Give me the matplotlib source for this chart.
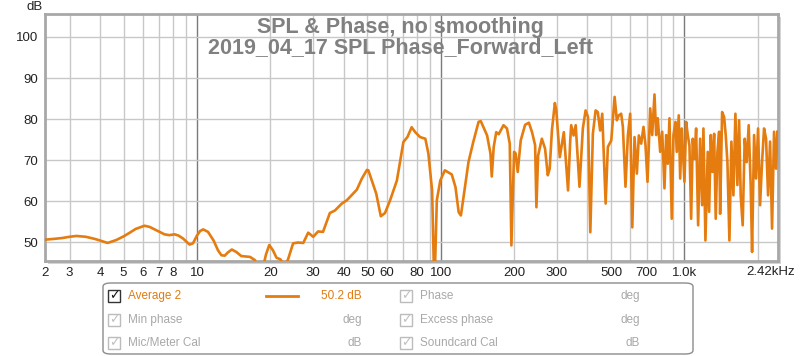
import numpy as np
import matplotlib
matplotlib.use("Agg")
import matplotlib.pyplot as plt
from matplotlib.patches import FancyBboxPatch, Rectangle
from matplotlib.ticker import FixedLocator, NullFormatter

plt.rcParams['font.family'] = ['Liberation Sans', 'DejaVu Sans']

# SPL readings (Hz, dB) - smooth low end
freq_lo = [2.38, 2.6, 2.8, 3.0, 3.2, 3.5, 3.8, 4.0, 4.3, 4.66, 5.0, 5.3, 5.6, 6.09, 6.4, 6.81, 7.36,
           7.7, 8.1, 8.4, 8.76, 9.33, 9.63, 10.0, 10.3, 10.6, 11.1, 11.7, 12.2, 12.6, 13.0, 13.4,
           13.9, 14.5, 15.2, 16.5, 17.3, 18.0, 18.6, 19.2, 19.8, 20.5, 21.2,
           22.0, 23.0, 23.7, 24.8, 26.0, 27.3, 28.6, 30.0, 31.4, 32.9, 35.1, 36.8, 39.3, 41.2,
           45.3, 47.5, 49.8, 50.5, 54.4, 56.8, 59.1, 62.0, 66.1, 70.3, 73.0, 76.0, 78.6, 82.3,
           86.5, 89.0, 92.2, 94.2, 96.4, 99.6, 104, 111, 115, 118.5, 121, 123, 130, 136, 143,
           146, 155, 160, 162, 165, 169, 173, 181, 187, 192, 195, 200, 203, 207, 213, 222, 230,
           237, 244, 247, 251, 260, 268, 275, 280, 286, 294, 298, 308, 320, 333, 340]
spl_lo = [50.6, 50.8, 51.0, 51.3, 51.5, 51.3, 50.8, 50.4, 49.8, 50.5, 51.4, 52.3, 53.2, 54.0, 53.7,
          52.9, 51.9, 51.7, 51.9, 51.6, 50.9, 49.4, 49.7, 51.6, 52.7, 53.1, 52.5, 50.4, 48.0,
          46.8, 46.7, 47.5, 48.2, 47.6, 46.6, 46.4, 45.6, 43.0, 43.5, 47.0, 49.3, 48.0, 46.2,
          45.8, 44.0, 46.0, 49.7, 49.9, 49.8, 52.3, 51.3, 52.6, 52.5, 57.1, 57.7, 59.4, 60.2,
          62.8, 65.5, 67.6, 67.5, 61.8, 56.3, 57.1, 60.2, 65.0, 74.4, 75.6, 78.0, 76.8, 75.6,
          75.2, 71.6, 62.6, 38.0, 60.2, 65.0, 67.5, 66.5, 63.4, 57.3, 56.5, 59.4, 69.5, 74.4, 79.3,
          79.5, 76.0, 71.6, 66.0, 73.2, 76.8, 76.3, 78.5, 77.7, 74.0, 49.2, 72.0, 71.6, 67.1, 74.8,
          78.6, 79.1, 76.8, 73.6, 58.5, 71.1, 75.2, 72.8, 66.3, 67.9, 77.3, 83.9, 82.1, 70.7,
          76.8, 62.6, 74.8]

# noisy mid/high end
freq_mid = [343, 351, 358, 371, 383, 393, 402, 411, 421, 432, 441, 451, 460, 475, 485, 501,
            517, 528, 538, 550, 559, 573, 586, 599, 611, 624, 638, 650]
spl_mid = [78.5, 76.0, 78.5, 63.5, 77.7, 82.1, 80.5, 52.4, 76.4, 82.1, 81.7, 77.2, 81.3, 59.4,
           73.2, 74.8, 85.4, 79.7, 80.9, 81.3, 78.1, 63.5, 76.0, 81.3, 53.6, 75.6, 66.7, 76.0]

freq_hi = [664.6, 679.2, 692.2, 705.4, 723.6, 737.4, 753.5, 765.6, 777.4, 795.2, 810.4, 828.0,
           841.4, 854.2, 868.1, 887.2, 901.5, 918.7, 930.0, 947.7, 960.4, 974.9, 1000, 1016.2,
           1031.6, 1048.3, 1065.3, 1081.5, 1098.9, 1116.7, 1138.0, 1159.7, 1181.8, 1196.4,
           1219.2, 1246.1, 1262.7, 1281.9, 1302.6, 1323.7, 1343.8, 1365.5, 1387.6, 1400.7,
           1427.4, 1454.6, 1476.7, 1500.6, 1529.2, 1558.3, 1588.0, 1618.2, 1649.1, 1675.7,
           1701.2, 1733.6, 1766.7, 1800.3, 1834.6, 1869.6, 1894.4, 1930.4, 1967.2, 2004.7,
           2042.9, 2081.8, 2121.5, 2161.9, 2203.1, 2245.1, 2287.9, 2331.4, 2375.8, 2405.1]
spl_hi = [74.0, 78.1, 73.6, 64.7, 82.6, 76.1, 86.0, 76.1, 80.2, 72.0, 76.9, 63.1,
          76.1, 69.1, 80.2, 55.7, 76.1, 79.3, 72.0, 80.9, 65.5, 77.7, 64.7, 79.3,
          76.1, 73.6, 55.7, 75.2, 70.3, 77.7, 54.1, 75.2, 59.0, 77.7,
          50.4, 72.0, 57.4, 76.1, 67.1, 76.4, 55.7, 72.0, 76.9, 56.9,
          81.7, 80.5, 76.1, 69.5, 50.4, 74.5, 61.4, 81.3, 63.9, 79.7,
          61.4, 54.1, 75.2, 69.5, 78.5, 63.9, 47.6, 76.1, 65.5, 77.7,
          59.0, 69.5, 77.7, 75.2, 61.4, 74.5, 53.3, 76.9, 67.9, 76.9]

x_ticks = [3, 4, 5, 6, 7, 8, 10, 20, 30, 40, 50, 60, 80, 100, 200, 300, 500, 700, 1000]
x_labels = ['3', '4', '5', '6', '7', '8', '10', '20', '30', '40', '50', '60', '80', '100',
            '200', '300', '500', '700', '1.0k']
y_ticks = [50, 60, 70, 80, 90, 100]

freq = np.array(freq_lo + freq_mid + freq_hi)
spl = np.array(spl_lo + spl_mid + spl_hi)

fig = plt.figure(figsize=(8, 3.56), dpi=100)
ax = fig.add_axes([45 / 800, 1 - 261 / 356, 733 / 800, 247 / 356])
ax.set_xscale('log')
ax.set_xlim(2.38, 2420)
ax.set_ylim(45.4, 105.6)

# drop shadow under the plot frame
fig.patches.append(Rectangle((48 / 800, 1 - 264 / 356), 733 / 800, 247 / 356,
                             transform=fig.transFigure, fc='#d4d4d4', ec='none', zorder=-1))

# grid
minor = [m * 10 ** k for k in range(0, 4) for m in range(2, 10) if 2.38 < m * 10 ** k < 2420]
for f in minor:
    ax.axvline(f, color='#c8c8c8', lw=1, zorder=1)
for f in [10, 100, 1000]:
    ax.axvline(f, color='#7a7a7a', lw=1, zorder=1)
for y in y_ticks:
    ax.axhline(y, color='#c8c8c8', lw=1, zorder=1)

ax.plot(freq, spl, color='#e57c10', lw=1.9, zorder=3, solid_joinstyle='round')

ax.xaxis.set_major_locator(FixedLocator([2.38] + x_ticks))
ax.set_xticklabels(['2'] + x_labels)
ax.xaxis.set_minor_formatter(NullFormatter())
ax.tick_params(axis='x', which='both', length=0, pad=4, labelsize=9.5, colors='#222222')
ax.set_yticks(y_ticks)
ax.tick_params(axis='y', length=0, pad=5, labelsize=9.5, colors='#222222')
for s in ax.spines.values():
    s.set_color('#a8a8a8')
    s.set_linewidth(2)

fig.text(795 / 800, 1 - 272 / 356, '2.42kHz', ha='right', va='center', fontsize=9.5,
         color='#222222')
fig.text(35 / 800, 1 - 7 / 356, 'dB', ha='center', va='center', fontsize=9.5, color='#222222')
fig.text(0.5, 1 - 27 / 356, 'SPL & Phase, no smoothing', ha='center', va='center',
         fontsize=15.5, fontweight='bold', color='#808080')
fig.text(0.5, 1 - 48 / 356, '2019_04_17 SPL Phase_Forward_Left', ha='center', va='center',
         fontsize=15.5, fontweight='bold', color='#808080')

# legend panel
box = FancyBboxPatch((103 / 800, 1 - 354 / 356), 590 / 800, 71 / 356,
                     boxstyle='round,pad=0,rounding_size=0.01', transform=fig.transFigure,
                     fc='white', ec='#8c8c8c', lw=1)
fig.patches.append(box)

rows = [296, 320, 343]
entries = [
    (108, 'Average 2', '50.2 dB', 362, True, rows[0]),
    (400, 'Phase', 'deg', 640, False, rows[0]),
    (108, 'Min phase', 'deg', 362, False, rows[1]),
    (400, 'Excess phase', 'deg', 640, False, rows[1]),
    (108, 'Mic/Meter Cal', 'dB', 362, False, rows[2]),
    (400, 'Soundcard Cal', 'dB', 640, False, rows[2]),
]
for cx, name, unit, ux, active, ry in entries:
    ec = '#333333' if active else '#bcbcbc'
    tc = '#e07b10' if active else '#a8a8a8'
    ck = '#111111' if active else '#c0c0c0'
    fig.patches.append(Rectangle((cx / 800, 1 - (ry + 6) / 356), 12 / 800, 12 / 356,
                                 transform=fig.transFigure, fc='white', ec=ec, lw=1))
    fig.text((cx + 6) / 800, 1 - ry / 356, '\u2713', ha='center', va='center', fontsize=9,
             color=ck, family=['DejaVu Sans'])
    fig.text((cx + 20) / 800, 1 - ry / 356, name, ha='left', va='center', fontsize=8.5, color=tc)
    fig.text(ux / 800, 1 - ry / 356, unit, ha='right', va='center', fontsize=8.5, color=tc)

fig.lines.append(plt.Line2D([266 / 800, 298 / 800], [1 - 296 / 356, 1 - 296 / 356],
                            transform=fig.transFigure, color='#e57c10', lw=2))

fig.savefig('out.png', dpi=100)
